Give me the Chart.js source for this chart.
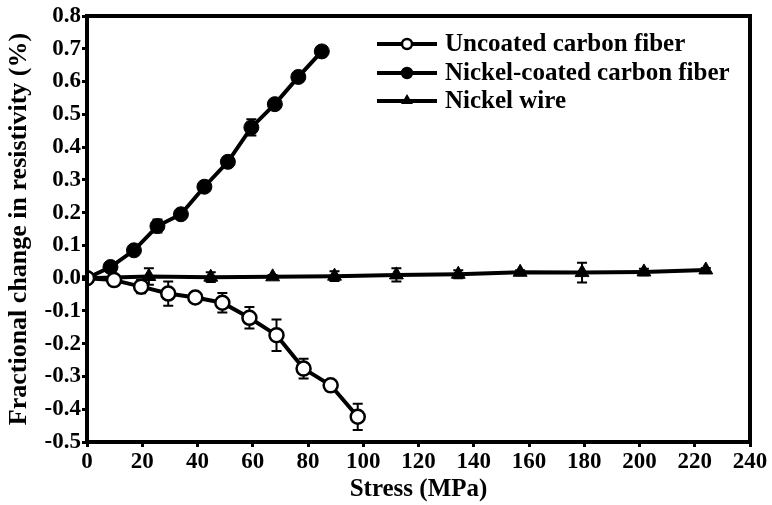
<!DOCTYPE html>
<html>
<head>
<meta charset="utf-8">
<script src="https://cdn.jsdelivr.net/npm/chart.js@4.4.0/dist/chart.umd.min.js"></script>
<style>
  html, body { margin: 0; padding: 0; background: #fff; }
  #wrap { width: 772px; height: 505px; }
</style>
</head>
<body>
<div id="wrap"><canvas id="chart" width="772" height="505"></canvas></div>
<script>
// Uncoated carbon fiber
const uncoatedX = [0, 9.8, 19.6, 29.4, 39.2, 49, 58.8, 68.6, 78.4, 88.2, 98];
const uncoatedY = [0, -0.006, -0.026, -0.047, -0.059, -0.075, -0.121, -0.174, -0.276, -0.327, -0.423];
const uncoatedErr = [0.005, 0.013, 0.02, 0.037, 0.006, 0.03, 0.033, 0.048, 0.03, 0.015, 0.04];

// Nickel-coated carbon fiber
const coatedX = [0, 8.5, 17, 25.5, 34, 42.5, 51, 59.5, 68, 76.5, 85];
const coatedY = [0, 0.034, 0.085, 0.159, 0.195, 0.279, 0.355, 0.46, 0.531, 0.614, 0.692];
const coatedErr = [0.005, 0.006, 0.008, 0.02, 0.008, 0.01, 0.01, 0.025, 0.01, 0.008, 0.015];

// Nickel wire
const wireX = [0, 22.4, 44.8, 67.2, 89.6, 112, 134.4, 156.8, 179.2, 201.6, 224];
const wireY = [0, 0.005, 0.003, 0.004, 0.006, 0.01, 0.012, 0.018, 0.017, 0.019, 0.025];
const wireErr = [0.004, 0.025, 0.015, 0.006, 0.015, 0.02, 0.012, 0.006, 0.03, 0.01, 0.006];

const seriesNames = ['Uncoated carbon fiber', 'Nickel-coated carbon fiber', 'Nickel wire'];

const FONT = '"Liberation Serif", "Times New Roman", serif';

function pts(xs, ys) { return xs.map((x, i) => ({ x: x, y: ys[i] })); }

// error bars, drawn before the lines so markers sit on top
const errorBars = {
  id: 'errorBars',
  beforeDatasetsDraw(chart) {
    const ctx = chart.ctx;
    const ys = chart.scales.y, xs = chart.scales.x;
    ctx.save();
    ctx.strokeStyle = '#000';
    ctx.lineWidth = 2;
    chart.data.datasets.forEach((ds) => {
      ds.data.forEach((p, i) => {
        const e = ds.errors[i];
        const px = xs.getPixelForValue(p.x);
        const top = ys.getPixelForValue(p.y + e);
        const bot = ys.getPixelForValue(p.y - e);
        ctx.beginPath();
        ctx.moveTo(px, top); ctx.lineTo(px, bot);
        ctx.moveTo(px - 5, top); ctx.lineTo(px + 5, top);
        ctx.moveTo(px - 5, bot); ctx.lineTo(px + 5, bot);
        ctx.stroke();
      });
    });
    ctx.restore();
  }
};

// frame round the plot and legend inside it
const frameAndLegend = {
  id: 'frameAndLegend',
  afterDraw(chart) {
    const ctx = chart.ctx;
    const a = chart.chartArea;
    ctx.save();
    ctx.strokeStyle = '#000';
    ctx.lineWidth = 4;
    ctx.strokeRect(a.left, a.top, a.right - a.left, a.bottom - a.top);

    const lx = 377, lw = 60, tx = 445;
    const rows = [44, 73, 101];
    ctx.font = 'bold 25px ' + FONT;
    ctx.textBaseline = 'middle';
    ctx.fillStyle = '#000';
    chart.data.datasets.forEach((ds, i) => {
      const y = rows[i];
      ctx.lineWidth = 4;
      ctx.beginPath();
      ctx.moveTo(lx, y); ctx.lineTo(lx + lw, y);
      ctx.stroke();
      const cx = lx + lw / 2;
      ctx.lineWidth = 2.5;
      if (ds.pointStyle === 'triangle') {
        ctx.beginPath();
        ctx.moveTo(cx, y - 7); ctx.lineTo(cx + 6, y + 3); ctx.lineTo(cx - 6, y + 3);
        ctx.closePath(); ctx.fill();
      } else {
        ctx.beginPath();
        ctx.arc(cx, y, 5, 0, Math.PI * 2);
        ctx.fillStyle = ds.pointBackgroundColor;
        ctx.fill(); ctx.stroke();
        ctx.fillStyle = '#000';
      }
      ctx.fillText(seriesNames[i], tx, y + 1);
    });
    ctx.restore();
  }
};

new Chart(document.getElementById('chart'), {
  type: 'scatter',
  data: {
    datasets: [
      {
        label: seriesNames[0], data: pts(uncoatedX, uncoatedY), errors: uncoatedErr,
        showLine: true, borderColor: '#000', borderWidth: 4,
        pointStyle: 'circle', pointRadius: 7, pointBackgroundColor: '#fff',
        pointBorderColor: '#000', pointBorderWidth: 2.5
      },
      {
        label: seriesNames[1], data: pts(coatedX, coatedY), errors: coatedErr,
        showLine: true, borderColor: '#000', borderWidth: 4,
        pointStyle: 'circle', pointRadius: 7.5, pointBackgroundColor: '#000',
        pointBorderColor: '#000', pointBorderWidth: 1
      },
      {
        label: seriesNames[2], data: pts(wireX, wireY), errors: wireErr,
        showLine: true, borderColor: '#000', borderWidth: 4,
        pointStyle: 'triangle', pointRadius: 8, pointBackgroundColor: '#000',
        pointBorderColor: '#000', pointBorderWidth: 1
      }
    ]
  },
  options: {
    responsive: false,
    animation: false,
    layout: { padding: { left: 0, right: 22, top: 16, bottom: 0 } },
    plugins: { legend: { display: false }, tooltip: { enabled: false } },
    scales: {
      x: {
        type: 'linear', min: 0, max: 240,
        afterFit(s) { s.height = 63; },
        ticks: { stepSize: 20, color: '#000', padding: 1, maxRotation: 0,
                 font: { family: FONT, size: 23, weight: 'bold' } },
        grid: { drawOnChartArea: false, drawTicks: true, tickLength: 5, tickWidth: 3, color: '#000' },
        border: { width: 4, color: '#000' },
        title: { display: true, text: 'Stress (MPa)', color: '#000', padding: { top: 0, bottom: 0 },
                 font: { family: FONT, size: 25, weight: 'bold' } }
      },
      y: {
        type: 'linear', min: -0.5, max: 0.8,
        afterFit(s) { s.width = 87; },
        ticks: { stepSize: 0.1, color: '#000', padding: 1,
                 callback: (v) => v.toFixed(1),
                 font: { family: FONT, size: 23, weight: 'bold' } },
        grid: { drawOnChartArea: false, drawTicks: true, tickLength: 5, tickWidth: 3, color: '#000' },
        border: { width: 4, color: '#000' },
        title: { display: true, text: 'Fractional change in resistivity (%)', color: '#000', padding: { top: 4, bottom: 0 },
                 font: { family: FONT, size: 26, weight: 'bold' } }
      }
    }
  },
  plugins: [errorBars, frameAndLegend]
});
</script>
</body>
</html>
